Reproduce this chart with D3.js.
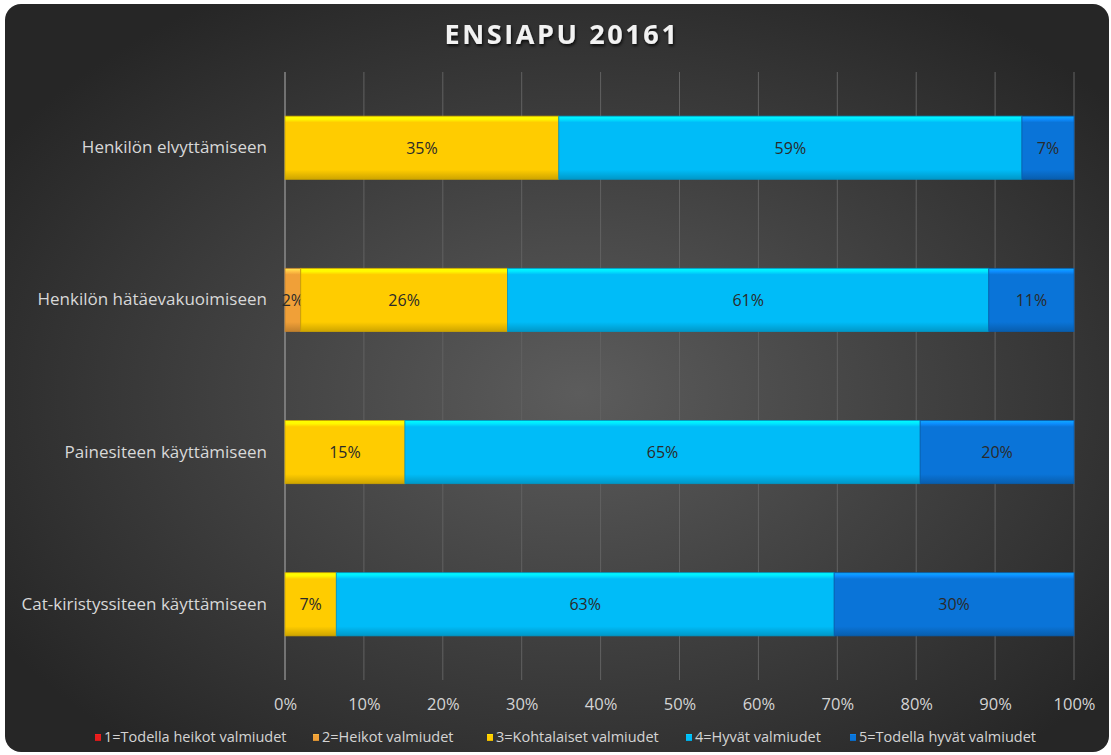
<!DOCTYPE html>
<html>
<head>
<meta charset="UTF-8">
<title>ENSIAPU 20161</title>
<script src="https://d3js.org/d3.v7.min.js"></script>
<style>
  body { margin: 0; background: #ffffff; }
  svg { display: block; }
</style>
</head>
<body>
<div id="chart"></div>
<script>
// data (percent of answers)
var categories = ["Henkilön elvyttämiseen", "Henkilön hätäevakuoimiseen", "Painesiteen käyttämiseen", "Cat-kiristyssiteen käyttämiseen"];
var seriesNames = ["1=Todella heikot valmiudet", "2=Heikot valmiudet", "3=Kohtalaiset valmiudet", "4=Hyvät valmiudet", "5=Todella hyvät valmiudet"];
var s1 = [0, 0, 0, 0];
var s2 = [0, 2.0, 0, 0];
var s3 = [34.7, 26.2, 15.2, 6.5];
var s4 = [58.7, 61.0, 65.3, 63.1];
var s5 = [6.6, 10.8, 19.5, 30.4];
var tickValues = [0, 10, 20, 30, 40, 50, 60, 70, 80, 90, 100];

var colors = ["#e81c1c", "#f0a038", "#ffcc00", "#00bcf8", "#0a74d8"];

var W = 1111, H = 755;
var svg = d3.select("#chart").append("svg").attr("width", W).attr("height", H);
var defs = svg.append("defs");

// background gradient
var bg = defs.append("radialGradient").attr("id", "bg")
    .attr("cx", "52%").attr("cy", "52%").attr("r", "62%");
bg.append("stop").attr("offset", "0%").attr("stop-color", "#5c5c5c");
bg.append("stop").attr("offset", "100%").attr("stop-color", "#262626");

// bevel gradients for the bars
colors.forEach(function(c, i) {
  var g = defs.append("linearGradient").attr("id", "bar" + i)
      .attr("x1", 0).attr("y1", 0).attr("x2", 0).attr("y2", 1);
  g.append("stop").attr("offset", "0%").attr("stop-color", d3.color(c).brighter(1.1));
  g.append("stop").attr("offset", "5%").attr("stop-color", d3.color(c).brighter(0.55));
  g.append("stop").attr("offset", "10%").attr("stop-color", c);
  g.append("stop").attr("offset", "85%").attr("stop-color", c);
  g.append("stop").attr("offset", "100%").attr("stop-color", d3.color(c).darker(0.6));
});

var shadow = defs.append("filter").attr("id", "tshadow");
shadow.append("feDropShadow").attr("dx", 1).attr("dy", 2).attr("stdDeviation", 1.5)
    .attr("flood-color", "#000").attr("flood-opacity", 0.8);

svg.append("rect").attr("x", 5).attr("y", 4).attr("width", 1104).attr("height", 748)
    .attr("rx", 16).attr("fill", "url(#bg)");

svg.append("text").attr("x", 562).attr("y", 44)
    .attr("text-anchor", "middle")
    .attr("font-family", "'Open Sans', sans-serif").attr("font-weight", "bold")
    .attr("font-size", 27).attr("letter-spacing", 2.6)
    .attr("fill", "#f2f2f2").attr("filter", "url(#tshadow)")
    .text("ENSIAPU 20161");

var margin = { left: 285, right: 37, top: 72, bottom: 75 };
var x = d3.scaleLinear().domain([0, 100]).range([margin.left, W - margin.right]);
var y = d3.scaleBand().domain(categories).range([margin.top, H - margin.bottom]).paddingInner(0.585).paddingOuter(0.29);

// grid
svg.append("g").selectAll("line").data(tickValues).enter().append("line")
    .attr("x1", function(d) { return x(d); }).attr("x2", function(d) { return x(d); })
    .attr("y1", margin.top).attr("y2", H - margin.bottom)
    .attr("stroke", function(d) { return d === 0 ? "#b0b0b0" : "#626262"; })
    .attr("stroke-width", 1);

// axis
var xAxis = svg.append("g").attr("transform", "translate(0," + (H - margin.bottom) + ")")
    .call(d3.axisBottom(x).tickValues(tickValues).tickFormat(function(d) { return d + "%"; }).tickSize(0).tickPadding(18));
xAxis.select(".domain").remove();
xAxis.attr("font-size", 16.5).attr("font-family", "'Open Sans', sans-serif");
xAxis.selectAll("text").attr("fill", "#d4d4d4");

var yAxis = svg.append("g").attr("transform", "translate(" + margin.left + ",0)")
    .call(d3.axisLeft(y).tickSize(0).tickPadding(18));
yAxis.select(".domain").remove();
yAxis.attr("font-size", 17).attr("font-family", "'Open Sans', sans-serif");
yAxis.selectAll("text").attr("fill", "#d8d8d8");

// stacked bars
var rows = categories.map(function(c, i) {
  return { cat: c, a: s1[i], b: s2[i], c: s3[i], d: s4[i], e: s5[i] };
});
var stack = d3.stack().keys(["a", "b", "c", "d", "e"]);
var layers = stack(rows);

var lg = svg.selectAll("g.layer").data(layers).enter().append("g").attr("class", "layer");
lg.each(function(layer, li) {
  var segs = d3.select(this).selectAll("g").data(layer.filter(function(d) { return d[1] - d[0] > 0; }))
      .enter().append("g");
  segs.append("rect")
      .attr("x", function(d) { return x(d[0]); })
      .attr("y", function(d) { return y(d.data.cat); })
      .attr("width", function(d) { return x(d[1]) - x(d[0]); })
      .attr("height", y.bandwidth())
      .attr("fill", "url(#bar" + li + ")")
      .attr("stroke", d3.color(colors[li]).darker(0.6))
      .attr("stroke-width", 0.8);
  segs.append("text")
      .attr("x", function(d) { return (x(d[0]) + x(d[1])) / 2; })
      .attr("y", function(d) { return y(d.data.cat) + y.bandwidth() / 2 + 6; })
      .attr("text-anchor", "middle")
      .attr("font-family", "'Open Sans', sans-serif").attr("font-size", 16)
      .attr("fill", "#2a2a2a")
      .text(function(d) { return Math.round(d[1] - d[0]) + "%"; });
});

// legend
var legendX = [95, 313, 487, 686, 850];
var leg = svg.append("g").selectAll("g").data(seriesNames).enter().append("g")
    .attr("transform", function(d, i) { return "translate(" + legendX[i] + ",742)"; });
leg.append("rect").attr("x", 0).attr("y", -8).attr("width", 6).attr("height", 7)
    .attr("fill", function(d, i) { return "url(#bar" + i + ")"; });
leg.append("text").attr("x", 9).attr("y", 0)
    .attr("font-family", "'Liberation Sans Narrow', 'Open Sans', sans-serif").attr("font-size", 14.5)
    .attr("fill", "#d4d4d4")
    .text(function(d) { return d; });
</script>
</body>
</html>
